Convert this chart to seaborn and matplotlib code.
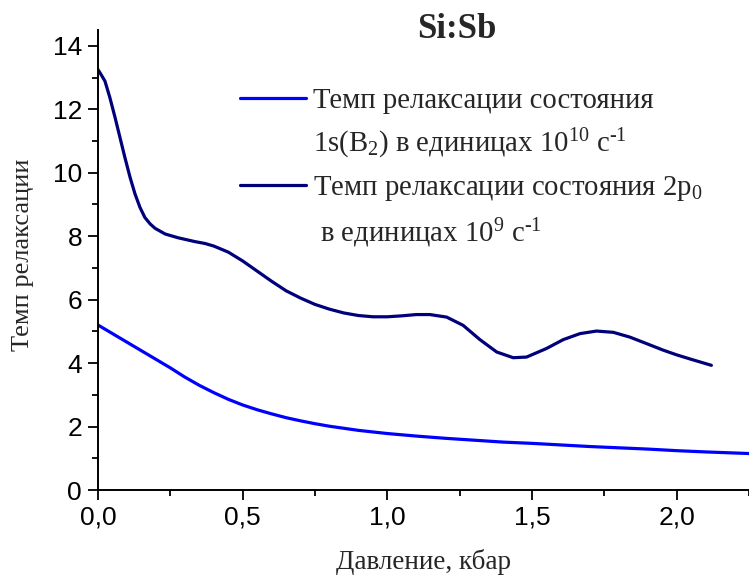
import numpy as np
import pandas as pd
import matplotlib
matplotlib.use("Agg")
import matplotlib.pyplot as plt
from matplotlib.lines import Line2D
from matplotlib.ticker import FuncFormatter, MultipleLocator
import seaborn as sns

# Relaxation rate of 1s(B2), units of 1e10 s^-1
pressure_1s = [0.00, 0.05, 0.10, 0.15, 0.20, 0.25, 0.30, 0.35, 0.40, 0.45, 0.50,
               0.55, 0.60, 0.65, 0.70, 0.75, 0.80, 0.90, 1.00, 1.10, 1.20, 1.30,
               1.40, 1.50, 1.60, 1.70, 1.80, 1.90, 2.00, 2.10, 2.25]
rate_1s = [5.20, 4.93, 4.66, 4.39, 4.12, 3.85, 3.56, 3.30, 3.07, 2.86, 2.68,
           2.53, 2.40, 2.28, 2.18, 2.09, 2.01, 1.88, 1.78, 1.70, 1.63, 1.57,
           1.51, 1.47, 1.42, 1.37, 1.33, 1.29, 1.24, 1.20, 1.15]

# Relaxation rate of 2p0, units of 1e9 s^-1
pressure_2p = [0.000, 0.007, 0.024, 0.041, 0.059, 0.076, 0.093, 0.111, 0.128, 0.145,
               0.162, 0.180, 0.197, 0.232, 0.277, 0.335, 0.370, 0.400, 0.450, 0.500,
               0.550, 0.600, 0.650, 0.700, 0.750, 0.800, 0.850, 0.900, 0.950, 1.000,
               1.050, 1.100, 1.147, 1.205, 1.262, 1.320, 1.378, 1.435, 1.481, 1.550,
               1.608, 1.666, 1.723, 1.781, 1.838, 1.900, 1.953, 2.000, 2.050, 2.120]
rate_2p = [13.25, 13.15, 12.89, 12.37, 11.74, 11.11, 10.48, 9.85, 9.33, 8.91,
           8.59, 8.39, 8.25, 8.07, 7.95, 7.83, 7.77, 7.69, 7.50, 7.22,
           6.90, 6.58, 6.28, 6.05, 5.85, 5.70, 5.58, 5.50, 5.46, 5.46,
           5.49, 5.53, 5.53, 5.45, 5.19, 4.74, 4.35, 4.17, 4.19, 4.46,
           4.74, 4.93, 5.01, 4.97, 4.82, 4.60, 4.41, 4.26, 4.12, 3.93]

HY = "\u2010"
legend_lines = [
    "Темп релаксации состояния",
    "1s(B$_2$) в единицах 10$^{10}$ с$^{" + HY + "1}$",
    "Темп релаксации состояния 2p$_0$",
    " в единицах 10$^{9}$ с$^{" + HY + "1}$",
]
colors = ["#0000FF", "#00007A"]

df = pd.concat([
    pd.DataFrame({"p": pressure_1s, "rate": rate_1s, "series": "1s"}),
    pd.DataFrame({"p": pressure_2p, "rate": rate_2p, "series": "2p"}),
])

sns.set_theme(style="ticks")
plt.rcParams["font.family"] = ["Liberation Serif", "DejaVu Serif"]
plt.rcParams["mathtext.fontset"] = "custom"
plt.rcParams["mathtext.rm"] = "Liberation Serif"
plt.rcParams["mathtext.it"] = "Liberation Serif:italic"
plt.rcParams["mathtext.bf"] = "Liberation Serif:bold"

fig = plt.figure(figsize=(7.49, 5.75), dpi=100)
ax = fig.add_axes([98 / 749, 1 - 490 / 575, 1 - 98 / 749, (490 - 30) / 575])

sns.lineplot(data=df, x="p", y="rate", hue="series", palette=colors,
             estimator=None, sort=False, linewidth=2.3, legend=False, ax=ax)

ax.set_xlim(0, 2.25)
ax.set_ylim(0, 14.5)
ax.xaxis.set_major_locator(MultipleLocator(0.5))
ax.xaxis.set_minor_locator(MultipleLocator(0.25))
ax.yaxis.set_major_locator(MultipleLocator(2))
ax.yaxis.set_minor_locator(MultipleLocator(1))
ax.xaxis.set_major_formatter(FuncFormatter(lambda v, _: f"{v:.1f}".replace(".", ",")))
ax.yaxis.set_major_formatter(FuncFormatter(lambda v, _: f"{v:.0f}"))

for side in ["top", "right"]:
    ax.spines[side].set_visible(False)
for side in ["left", "bottom"]:
    ax.spines[side].set_linewidth(1.4)
    ax.spines[side].set_color("black")

ax.tick_params(which="major", direction="out", length=7.5, width=1.3, colors="black",
               labelsize=19, pad=4)
ax.tick_params(which="minor", direction="out", length=4, width=1.3, colors="black")
for lab in ax.get_xticklabels() + ax.get_yticklabels():
    lab.set_fontfamily(["Liberation Sans", "DejaVu Sans"])

ax.set_xlabel("Давление, кбар", fontsize=19.5, va="center")
ax.set_ylabel("Темп релаксации", fontsize=19, va="center")
ax.xaxis.set_label_coords(0.5, (490 - 562) / 460)
ax.yaxis.set_label_coords((23 - 98) / 651, (490 - 255) / 460)

fig.text(457 / 749, 1 - 29 / 575, "Si:Sb", fontsize=25, fontweight="bold",
         ha="center", va="center")

lines = ax.get_lines()
blank = Line2D([], [], alpha=0)
handles = [lines[0], blank, lines[1], blank]
leg = ax.legend(handles, legend_lines, loc="upper left",
                bbox_to_anchor=(240 / 749, 1 - 88 / 575), bbox_transform=fig.transFigure,
                frameon=False, fontsize=20.7, handlelength=2.3, handletextpad=0.25,
                borderpad=0, borderaxespad=0, labelspacing=0.45)

fig.savefig("out.png", dpi=100)
